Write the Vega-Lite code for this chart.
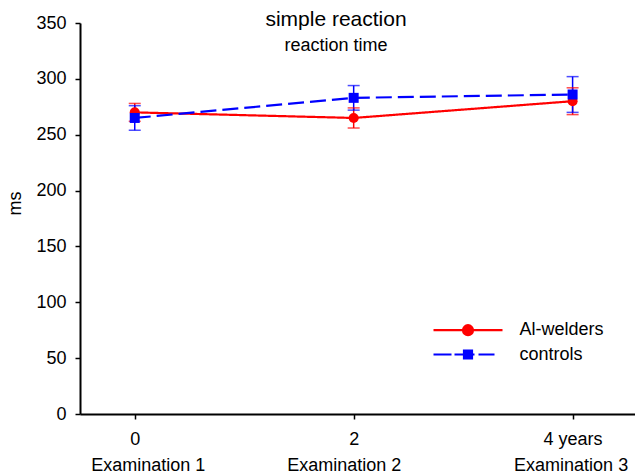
{
  "$schema": "https://vega.github.io/schema/vega-lite/v6.json",
  "width": 555,
  "height": 391,
  "autosize": {"type": "none"},
  "padding": {"left": 80, "top": 23, "right": 0, "bottom": 60},
  "background": "white",
  "title": {
    "text": "simple reaction",
    "subtitle": "reaction time",
    "anchor": "middle",
    "frame": "group",
    "dx": -21.5,
    "offset": -41,
    "font": "Liberation Sans",
    "fontSize": 21,
    "fontWeight": "normal",
    "color": "black",
    "subtitleFont": "Liberation Sans",
    "subtitleFontSize": 18,
    "subtitleColor": "black",
    "subtitlePadding": 7
  },
  "config": {
    "view": {"stroke": null},
    "font": "Liberation Sans",
    "axis": {
      "domainColor": "black",
      "domainWidth": 2,
      "tickColor": "black",
      "tickWidth": 1.5,
      "tickSize": 5,
      "labelColor": "black",
      "labelFont": "Liberation Sans",
      "labelFontSize": 18,
      "titleFont": "Liberation Sans",
      "titleFontSize": 18,
      "titleFontWeight": "normal",
      "titleColor": "black",
      "grid": false
    }
  },
  "resolve": {"axis": {"x": "independent"}},
  "data": {
    "values": [
      {"group": "Al-welders", "x": 0, "y": 270, "lo": 262, "hi": 278},
      {"group": "Al-welders", "x": 2, "y": 265, "lo": 256, "hi": 274},
      {"group": "Al-welders", "x": 4, "y": 280, "lo": 268, "hi": 292},
      {"group": "controls", "x": 0, "y": 265, "lo": 254, "hi": 276},
      {"group": "controls", "x": 2, "y": 283, "lo": 272, "hi": 294},
      {"group": "controls", "x": 4, "y": 286, "lo": 270, "hi": 302}
    ]
  },
  "layer": [
    {
      "mark": {"type": "rule", "strokeWidth": 1.5},
      "encoding": {
        "x": {
          "field": "x",
          "type": "quantitative",
          "scale": {"domain": [-0.5, 4.57], "nice": false, "zero": false},
          "axis": {
            "orient": "bottom",
            "title": null,
            "values": [0, 2, 4],
            "domain": false,
            "ticks": false,
            "tickSize": 0,
            "labelExpr": "'Examination ' + (datum.value / 2 + 1)",
            "labelPadding": 42,
            "labelOffset": {"condition": [{"test": "datum.value == 0", "value": 13}, {"test": "datum.value == 2", "value": -10}], "value": -2},
            "labelOverlap": false,
            "labelBound": false,
            "labelFlush": false
          }
        },
        "y": {"field": "lo", "type": "quantitative"},
        "y2": {"field": "hi"},
        "color": {"condition": {"test": "datum.group === 'controls'", "value": "#0000ff"}, "value": "#ff0000"}
      }
    },
    {
      "mark": {"type": "tick", "orient": "horizontal", "size": 12, "thickness": 1.5},
      "encoding": {
        "x": {"field": "x", "type": "quantitative", "axis": null},
        "y": {"field": "lo", "type": "quantitative"},
        "color": {"condition": {"test": "datum.group === 'controls'", "value": "#0000ff"}, "value": "#ff0000"}
      }
    },
    {
      "mark": {"type": "tick", "orient": "horizontal", "size": 12, "thickness": 1.5},
      "encoding": {
        "x": {"field": "x", "type": "quantitative", "axis": null},
        "y": {"field": "hi", "type": "quantitative"},
        "color": {"condition": {"test": "datum.group === 'controls'", "value": "#0000ff"}, "value": "#ff0000"}
      }
    },
    {
      "mark": {"type": "line", "strokeWidth": 2.2},
      "encoding": {
        "x": {"field": "x", "type": "quantitative", "axis": null},
        "y": {"field": "y", "type": "quantitative"},
        "detail": {"field": "group", "type": "nominal"},
        "color": {"condition": {"test": "datum.group === 'controls'", "value": "#0000ff"}, "value": "#ff0000"},
        "strokeDash": {
          "condition": {"test": "datum.group === 'controls'", "value": [16, 6]},
          "value": [1, 0]
        }
      }
    },
    {
      "mark": {"type": "point", "filled": true, "opacity": 1, "size": 100},
      "encoding": {
        "x": {
          "field": "x",
          "type": "quantitative",
          "axis": {
            "orient": "bottom",
            "title": null,
            "values": [0, 2, 4],
            "labelExpr": "datum.value == 4 ? '4 years' : datum.label",
            "labelPadding": 11,
            "labelOverlap": false,
            "labelBound": false,
            "labelFlush": false
          }
        },
        "y": {
          "field": "y",
          "type": "quantitative",
          "scale": {"domain": [0, 350], "nice": false},
          "axis": {
            "title": "ms",
            "values": [0, 50, 100, 150, 200, 250, 300, 350],
            "labelPadding": 9,
            "titlePadding": 11,
            "titleY": 180
          }
        },
        "shape": {
          "condition": {"test": "datum.group === 'controls'", "value": "square"},
          "value": "circle"
        },
        "color": {"condition": {"test": "datum.group === 'controls'", "value": "#0000ff"}, "value": "#ff0000"}
      }
    },
    {
      "mark": {"type": "point", "filled": false, "opacity": 0, "size": 400},
      "encoding": {
        "x": {"field": "x", "type": "quantitative", "axis": null},
        "y": {"field": "y", "type": "quantitative"},
        "shape": {
          "field": "group",
          "type": "nominal",
          "scale": {
            "domain": ["Al-welders", "controls"],
            "range": [
              "M-3.45,0H3.45M0.5,0A0.5,0.5 0 1,1 -0.5,0A0.5,0.5 0 1,1 0.5,0M0.3,0A0.3,0.3 0 1,1 -0.3,0A0.3,0.3 0 1,1 0.3,0M0.1,0A0.1,0.1 0 1,1 -0.1,0A0.1,0.1 0 1,1 0.1,0",
              "M-3.45,0H-1.65M-1.35,0H0.65M1.05,0H2.65M-0.4,-0.4H0.4V0.4H-0.4ZM-0.2,-0.2H0.2V0.2H-0.2Z"
            ]
          }
        },
        "color": {
          "field": "group",
          "type": "nominal",
          "scale": {"domain": ["Al-welders", "controls"], "range": ["#ff0000", "#0000ff"]},
          "legend": {
            "title": null,
            "orient": "none",
            "legendX": 376.5,
            "legendY": 295.7,
            "padding": 0,
            "symbolSize": 400,
            "symbolStrokeWidth": 2.2,
            "symbolOpacity": 1,
            "labelOffset": 40,
            "labelFont": "Liberation Sans",
            "labelFontSize": 18,
            "labelColor": "black",
            "rowPadding": 3.3
          }
        }
      }
    }
  ]
}
